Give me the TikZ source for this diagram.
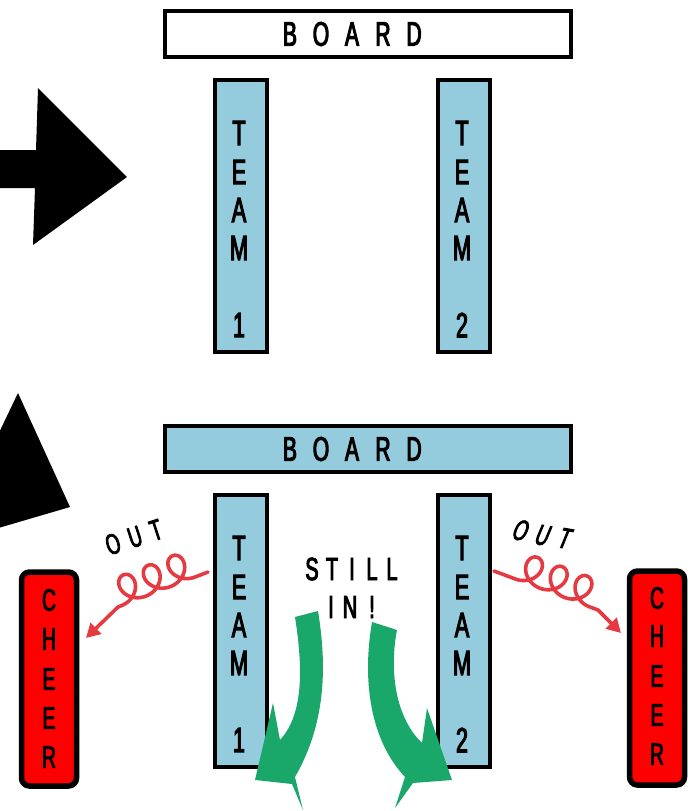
\documentclass[tikz,border=0pt]{standalone}
\usepackage{fontspec}
\newfontfamily\hand[FakeStretch=0.62, FakeBold=3]{Liberation Sans}
\newfontfamily\handslant[FakeStretch=0.62, FakeBold=3, FakeSlant=0.22]{Liberation Sans}
\usetikzlibrary{arrows.meta}
\definecolor{teamblue}{RGB}{148,204,221}
\definecolor{cheerred}{RGB}{254,0,0}
\definecolor{spiralred}{RGB}{229,58,66}
\definecolor{arrowgreen}{RGB}{26,168,106}
\begin{document}
\begin{tikzpicture}[x=1pt,y=-1pt,
  boardbox/.style={draw=black, line width=4pt, minimum width=406pt, minimum height=46pt, inner sep=0pt},
  teambox/.style={draw=black, line width=4pt, fill=teamblue, minimum width=52pt, minimum height=272pt, inner sep=0pt},
  cheerbox/.style={draw=black, line width=5.5pt, fill=cheerred, rounded corners=8pt, minimum width=55pt, minimum height=214pt, inner sep=0pt},
  lbl/.style={font=\hand\fontsize{35}{35}\selectfont, inner sep=0pt},
  blbl/.style={font=\hand\fontsize{34}{34}\selectfont, inner sep=0pt},
  clbl/.style={font=\hand\fontsize{31}{31}\selectfont, inner sep=0pt},
  slbl/.style={font=\hand\fontsize{32}{32}\selectfont, inner sep=0pt},
  outtxt/.style={font=\hand\fontsize{29}{29}\selectfont, inner sep=0pt},
  outslant/.style={font=\handslant\fontsize{29}{29}\selectfont, inner sep=0pt},
  spiral/.style={draw=spiralred, line width=3.6pt, line cap=round, line join=round},
  greenarrow/.style={fill=arrowgreen}
]
\useasboundingbox (0,0) rectangle (691,811);
\clip (0,0) rectangle (691,811);

% big black arrow and triangle
\fill[black] (-5,150) -- (36,150) -- (38,88) -- (127,177) -- (33,245) -- (35,188) -- (-5,188) -- cycle;
\fill[black] (18,393) -- (70,507) -- (-5,529) -- (-5,441) -- cycle;

% top layout
\node[boardbox, fill=white] (board1) at (368,33.5) {};
\foreach \l/\x [count=\i] in {B/290,O/321,A/352,R/383,D/414}
  \node[blbl] (bA\i) at (\x,34) {\l};
\node[teambox] (t1a) at (241,216) {};
\node[teambox] (t2a) at (464,216) {};
\foreach \l/\y [count=\i] in {T/133,E/172,A/210,M/248,1/325}
  \node[lbl] (tA\i) at (239,\y) {\l};
\foreach \l/\y [count=\i] in {T/133,E/172,A/210,M/248,2/325}
  \node[lbl] (tB\i) at (462,\y) {\l};

% bottom layout
\node[boardbox, fill=teamblue] (board2) at (368,449) {};
\foreach \l/\x [count=\i] in {B/290,O/321,A/352,R/383,D/414}
  \node[blbl] (bB\i) at (\x,449) {\l};
\node[teambox] (t1b) at (241,631) {};
\node[teambox] (t2b) at (464,631) {};
\foreach \l/\y [count=\i] in {T/548,E/587,A/625,M/663,1/740}
  \node[lbl] (tC\i) at (239,\y) {\l};
\foreach \l/\y [count=\i] in {T/548,E/587,A/625,M/663,2/740}
  \node[lbl] (tD\i) at (462,\y) {\l};

% cheer boxes
\node[cheerbox] (cheerl) at (49,679) {};
\node[cheerbox] (cheerr) at (657,678) {};
\foreach \l/\y [count=\i] in {C/600,H/639,E/679,E/718,R/757}
  \node[clbl] (cL\i) at (49,\y) {\l};
\foreach \l/\y [count=\i] in {C/598,H/636,E/676,E/715,R/754}
  \node[clbl] (cR\i) at (657,\y) {\l};

% still in
\foreach \l/\x [count=\i] in {S/312,T/332,I/352,L/372,L/392}
  \node[slbl] (s\i) at (\x,569) {\l};
\foreach \l/\x [count=\i] in {I/331,N/350,!/372}
  \node[slbl] (n\i) at (\x,607) {\l};

% OUT labels
\foreach \l/\x/\y [count=\i] in {O/113/544,U/135/537,T/156/530}
  \node[outtxt, rotate=18] (ol\i) at (\x,\y) {\l};
\foreach \l/\x/\y [count=\i] in {O/519/530,U/541/535,T/563/538}
  \node[outslant, rotate=-10] (or\i) at (\x,\y) {\l};

% red spirals
\coordinate (ls) at (208,572);
\coordinate (lm) at (118,607);
\coordinate (le) at (86,638);
\begin{scope}[shift={(ls)}, rotate=201.25]
  \draw[spiral] (0,0) -- plot[domain=-180:900, samples=181, variable=\t]
    ({27 + 4.2*\t*pi/180 - 14*sin(\t)}, {14*cos(\t)+14}) -- (96.6,0);
\end{scope}
\draw[spiral, -{Triangle[length=14pt,width=15pt]}] (lm) -- (le);

\coordinate (rs) at (494,571);
\coordinate (rm) at (598,610);
\coordinate (re) at (621,633);
\begin{scope}[shift={(rs)}, rotate=-20.56]
  \draw[spiral] (0,0) -- plot[domain=-180:900, samples=181, variable=\t]
    ({36 + 4.2*\t*pi/180 - 14*sin(\t)}, {-14*cos(\t)-14}) -- (111,0);
\end{scope}
\draw[spiral, -{Triangle[length=14pt,width=15pt]}] (rm) -- (re);

% green arrows
\fill[greenarrow] (295,617) -- (318,611)
  .. controls (326,660) and (328,720) .. (295,777)
  -- (303,810) -- (292,784) -- (255,780) -- (273,703) -- (280,740)
  .. controls (300,718) and (305,680) .. (295,617) -- cycle;
\fill[greenarrow] (372,622) -- (397,630)
  .. controls (390,665) and (393,715) .. (422,743)
  -- (427,708) -- (452,780) -- (413,783) -- (395,808) -- (405,777)
  .. controls (370,740) and (362,680) .. (372,622) -- cycle;
\end{tikzpicture}
\end{document}
